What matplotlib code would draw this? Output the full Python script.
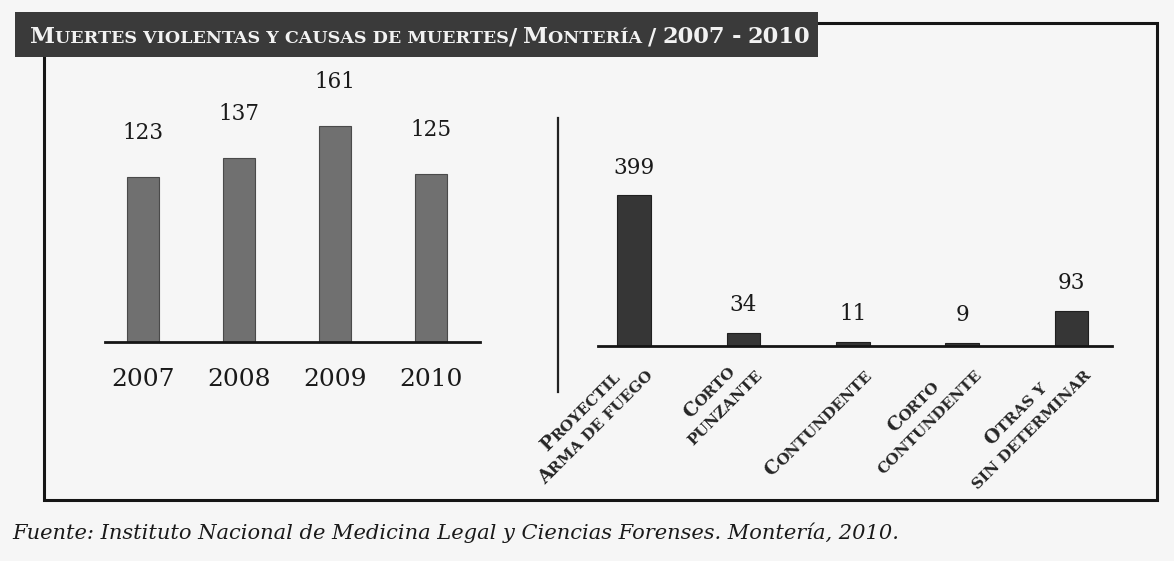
import math
import matplotlib
matplotlib.use("Agg")
import matplotlib.pyplot as plt
from matplotlib.font_manager import FontProperties
from matplotlib.transforms import IdentityTransform
from matplotlib.patches import Rectangle
from matplotlib.lines import Line2D

# Datos
years = ['2007', '2008', '2009', '2010']
year_counts = [123, 137, 161, 125]

causes = ['Proyectil\nArma de fuego', 'Corto\npunzante', 'Contundente',
          'Corto\ncontundente', 'Otras y\nsin determinar']
cause_counts = [399, 34, 11, 9, 93]

title = 'Muertes violentas y causas de muertes/ Montería / 2007 - 2010'
source = 'Fuente: Instituto Nacional de Medicina Legal y Ciencias Forenses. Montería, 2010.'

W, H = 1174, 561
SERIF = 'DejaVu Serif'
BG = '#f6f6f6'

fig = plt.figure(figsize=(W / 100, H / 100), dpi=100, facecolor=BG)
renderer = fig.canvas.get_renderer()


def px(x, y):
    # coordenadas de imagen (y hacia abajo) -> display
    return x, H - y


def fig_rect(x0, y0, x1, y1):
    return [x0 / W, (H - y1) / H, (x1 - x0) / W, (y1 - y0) / H]


def text_w(s, size, weight):
    fp = FontProperties(family=SERIF, size=size, weight=weight)
    w = renderer.get_text_width_height_descent(s + '|', fp, ismath=False)[0]
    w0 = renderer.get_text_width_height_descent('|', fp, ismath=False)[0]
    return w - w0


def runs(s):
    out = []
    for ch in s:
        small = ch.islower() or ch == ' '
        c = ch.upper()
        if out and out[-1][1] == small:
            out[-1][0] += c
        else:
            out.append([c, small])
    return out


def line_w(s, big, small, weight):
    return sum(text_w(t, small if sm else big, weight) for t, sm in runs(s))


def smallcaps(x, y, s, big, small, rot=0, ha='left', weight='normal', color='k', zorder=5):
    parts = runs(s)
    widths = [text_w(t, small if sm else big, weight) for t, sm in parts]
    total = sum(widths)
    frac = {'left': 0, 'center': 0.5, 'right': 1}[ha]
    c, sn = math.cos(math.radians(rot)), math.sin(math.radians(rot))
    x0, y0 = x - frac * total * c, y - frac * total * sn
    cum = 0
    for (t, sm), w in zip(parts, widths):
        fig.text(x0 + cum * c, y0 + cum * sn, t, fontsize=small if sm else big,
                 family=SERIF, weight=weight, color=color, rotation=rot,
                 rotation_mode='anchor', ha='left', va='baseline',
                 transform=IdentityTransform(), zorder=zorder)
        cum += w
    return total


def rotated_label(ax_x, ay, label, big, small, rot, weight='normal', color='#1e1e1e'):
    # (ax_x, ay): extremo derecho de la línea base de la última línea
    lines = label.split('\n')
    wmax = max(line_w(ln, big, small, weight) for ln in lines)
    c, sn = math.cos(math.radians(rot)), math.sin(math.radians(rot))
    nd = (sn, -c)
    lh = 1.15 * big * 100 / 72
    n = len(lines)
    for i, ln in enumerate(lines):
        off = -(n - 1 - i) * lh
        cx = ax_x - wmax / 2 * c + off * nd[0]
        cy = ay - wmax / 2 * sn + off * nd[1]
        smallcaps(cx, cy, ln, big, small, rot=rot, ha='center', weight=weight, color=color)


# Marco y barra de título
fig.add_artist(Rectangle((44 / W, (H - 500) / H), (1157 - 44) / W, (500 - 23) / H,
                         transform=fig.transFigure, fill=False, lw=2.2, ec='#151515', zorder=1))
fig.add_artist(Rectangle((15 / W, (H - 57) / H), (818 - 15) / W, (57 - 12) / H,
                         transform=fig.transFigure, fc='#3a3a3a', ec='none', zorder=3))
smallcaps(*px(30, 43), title, 16.3, 12.6, weight='bold', color='#f2f2f2')

# Línea divisoria
fig.add_artist(Line2D([558 / W, 558 / W], [(H - 118) / H, (H - 392) / H],
                      transform=fig.transFigure, color='#222222', lw=1.6))

# Gráfico izquierdo: años
ax1 = fig.add_axes(fig_rect(105, 60, 480, 342))
ax1.set_facecolor('none')
ax1.bar(range(len(years)), year_counts, width=0.34, color='#707070',
        edgecolor='#4a4a4a', lw=0.8)
ax1.set_xlim(-0.396, 3.51)
ax1.set_ylim(0, 210.4)
for i, v in enumerate(year_counts):
    ax1.annotate(str(v), (i, v), xytext=(0, 32), textcoords='offset points',
                 ha='center', va='center', fontsize=15.5, family=SERIF, color='#1a1a1a')
ax1.set_xticks(range(len(years)), years, family=SERIF, fontsize=18, color='#1a1a1a')

# Gráfico derecho: causas
ax2 = fig.add_axes(fig_rect(598, 60, 1112, 346))
ax2.set_facecolor('none')
ax2.bar(range(len(causes)), cause_counts, width=0.31, color='#363636',
        edgecolor='#202020', lw=0.8)
ax2.set_xlim(-0.33, 4.37)
ax2.set_ylim(0, 758)
for i, v in enumerate(cause_counts):
    ax2.annotate(str(v), (i, v), xytext=(0, 20), textcoords='offset points',
                 ha='center', va='center', fontsize=15.5, family=SERIF, color='#1a1a1a')
ax2.set_xticks(range(len(causes)), [''] * len(causes))

for ax in (ax1, ax2):
    for s in ('top', 'right', 'left'):
        ax.spines[s].set_visible(False)
    ax.spines['bottom'].set_linewidth(2)
    ax.spines['bottom'].set_color('#151515')
    ax.tick_params(axis='x', length=0, pad=19)
    ax.set_yticks([])

# Etiquetas giradas de las causas
for i, lab in enumerate(causes):
    bx, by = ax2.transData.transform((i, 0))
    rotated_label(bx + 20, by - 30, lab, 13.6, 11.1, 45, weight='bold', color='#262626')

# Fuente
fig.text(12 / W, (H - 539) / H, source, family=SERIF, style='italic',
         fontsize=15.1, color='#1a1a1a', ha='left', va='baseline')

fig.savefig('out.png', dpi=100, facecolor=BG)
